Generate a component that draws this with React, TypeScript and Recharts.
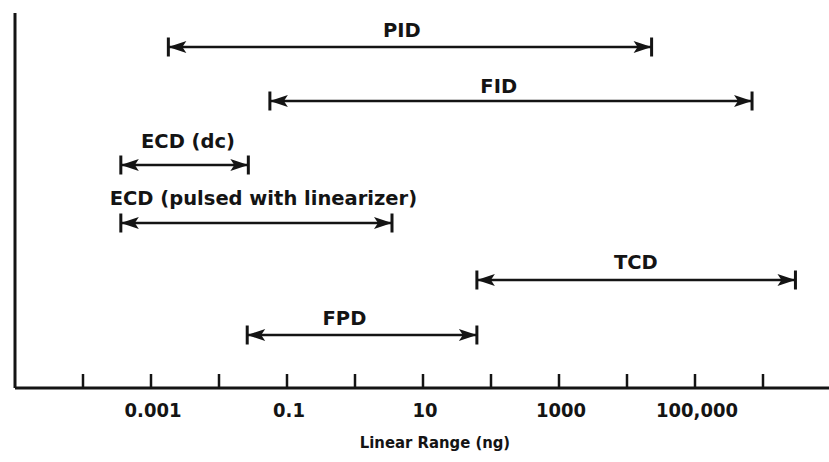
import React from 'react';
import { ComposedChart, Line, XAxis, YAxis, ReferenceDot, Label } from 'recharts';

// detector linear ranges (ng)
const detectors = ['PID', 'FID', 'ECD (dc)', 'ECD (pulsed with linearizer)', 'TCD', 'FPD'];
const lowNg = [0.0018, 0.056, 0.00036, 0.00036, 62, 0.026];
const highNg = [23000, 690000, 0.027, 3.5, 3000000, 62];
const rowLevel = [6.82, 5.74, 4.46, 3.3, 2.16, 1.06];
const labelAt = [4.9, 130, 0.0035, 0.045, 13500, 0.7];
const labelLevel = [7.16, 6.04, 4.94, 3.8, 2.52, 1.4];

const tickValues = [1e-4, 1e-3, 1e-2, 1e-1, 1, 10, 100, 1000, 1e4, 1e5, 1e6];
const tickLabels = ['', '0.001', '', '0.1', '', '10', '', '1000', '', '100,000', ''];

const INK = '#141414';
const FONT = '"DejaVu Sans", sans-serif';
const COND = '"DejaVu Sans Condensed", "DejaVu Sans", sans-serif';

const EndMark = (props: any) => {
  const { cx, cy, index } = props;
  if (cx == null || cy == null) return null;
  const dir = index === 0 ? 1 : -1; // arrow points outward to the cap
  const len = 18;
  const half = 6;
  return (
    <g key={`end-${index}`}>
      <line x1={cx} y1={cy - 9.5} x2={cx} y2={cy + 9.5} stroke={INK} strokeWidth={3} />
      <polygon
        points={`${cx},${cy} ${cx + dir * len},${cy - half} ${cx + dir * (len - 4)},${cy} ${cx + dir * len},${cy + half}`}
        fill={INK}
      />
    </g>
  );
};

const AxisTick = (props: any) => {
  const { x, y, payload } = props;
  const i = tickValues.indexOf(payload.value);
  return (
    <g>
      <line x1={x} y1={y} x2={x} y2={y - 14} stroke={INK} strokeWidth={2.5} />
      <text x={x + 2} y={y + 29} textAnchor="middle" fill={INK} fontSize={20} fontWeight="bold" fontFamily={COND}>
        {i >= 0 ? tickLabels[i] : ''}
      </text>
    </g>
  );
};

export default function App() {
  return (
    <div style={{ position: 'absolute', left: 0, top: 0, width: 829, height: 462, overflow: 'hidden', background: '#fff' }}>
      <ComposedChart width={831} height={462} margin={{ top: 13, right: 0, bottom: 0, left: 14 }}>
        <XAxis
          type="number"
          dataKey="x"
          scale="log"
          domain={[1e-5, 1e7]}
          ticks={tickValues}
          allowDataOverflow
          height={74}
          tickLine={false}
          tickSize={0}
          tickMargin={0}
          tick={<AxisTick />}
          axisLine={{ stroke: INK, strokeWidth: 3 }}
          interval={0}
        >
          <Label
            value="Linear Range (ng)"
            position="insideBottom"
            offset={14}
            dx={12}
            fill={INK}
            fontSize={16.5}
            fontWeight="bold"
            fontFamily={COND}
          />
        </XAxis>
        <YAxis
          type="number"
          domain={[0, 7.5]}
          width={1}
          tick={false}
          tickLine={false}
          axisLine={{ stroke: INK, strokeWidth: 3 }}
        />
        {detectors.map((name, i) => (
          <Line
            key={name}
            data={[
              { x: lowNg[i], y: rowLevel[i] },
              { x: highNg[i], y: rowLevel[i] },
            ]}
            dataKey="y"
            stroke={INK}
            strokeWidth={2.7}
            dot={<EndMark />}
            activeDot={false}
            isAnimationActive={false}
            legendType="none"
          />
        ))}
        {detectors.map((name, i) => (
          <ReferenceDot
            key={`lbl-${name}`}
            x={labelAt[i]}
            y={labelLevel[i]}
            r={0}
            fill="none"
            stroke="none"
            ifOverflow="visible"
            label={{ value: name, position: 'center', fill: INK, fontSize: 19.5, fontWeight: 'bold', fontFamily: FONT }}
          />
        ))}
      </ComposedChart>
    </div>
  );
}
